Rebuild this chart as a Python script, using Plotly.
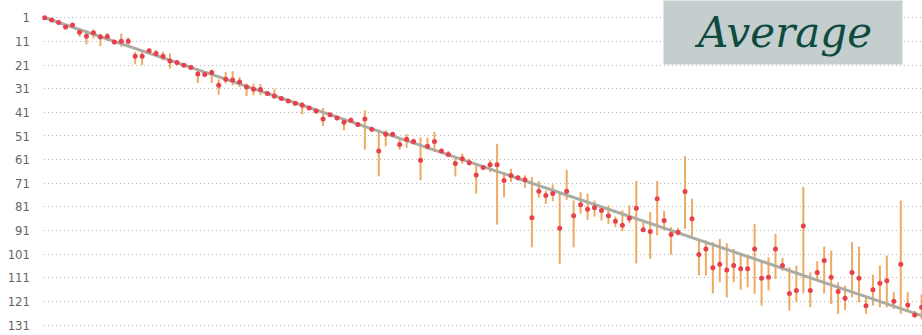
import plotly.graph_objects as go

# Expected rank of each item (1..127) and its observed average rank with spread
expected_rank = list(range(1, 128))

avg_rank = [
    1.0, 2.0, 3.0, 4.9, 4.1, 7.1, 8.8, 7.4, 9.1, 8.9,
    11.3, 10.9, 10.9, 17.3, 17.3, 15.0, 16.1, 17.3, 19.3, 19.9,
    21.1, 22.1, 24.8, 25.0, 24.2, 29.6, 27.0, 27.3, 28.2, 30.3,
    31.2, 31.4, 33.1, 34.1, 35.2, 36.2, 37.2, 38.0, 39.2, 40.4,
    43.8, 42.0, 43.4, 45.2, 44.4, 46.2, 43.8, 48.2, 57.4, 50.3,
    50.3, 54.6, 52.4, 53.3, 61.3, 55.4, 53.3, 57.4, 58.8, 62.7,
    60.6, 62.3, 67.5, 64.4, 63.2, 63.2, 69.9, 67.7, 68.7, 69.5,
    85.6, 74.4, 76.2, 75.3, 90.0, 74.4, 84.8, 80.1, 82.0, 81.4,
    82.5, 84.8, 87.1, 88.8, 85.8, 81.6, 90.7, 91.4, 77.6, 86.8,
    92.7, 91.7, 74.5, 86.0, 101.2, 98.8, 106.8, 105.3, 107.7, 105.8,
    107.2, 107.2, 98.8, 111.2, 110.8, 98.8, 105.8, 117.6, 116.4, 89.1,
    116.4, 108.8, 103.7, 110.8, 116.8, 119.7, 108.8, 111.2, 122.8, 116.1,
    113.3, 112.3, 120.9, 105.3, 122.5, 126.7, 123.5,
]

best_rank = [
    0.6, 1.6, 2.6, 4.1, 3.4, 6.0, 6.3, 6.0, 7.7, 7.4,
    10.5, 7.7, 9.3, 15.4, 15.4, 14.0, 14.7, 15.4, 16.1, 19.0,
    20.4, 21.1, 23.2, 24.3, 22.9, 27.1, 23.9, 23.6, 26.0, 28.8,
    28.9, 29.1, 32.4, 31.0, 34.6, 35.6, 36.2, 36.6, 38.6, 39.4,
    39.2, 41.4, 42.7, 43.7, 43.2, 45.1, 40.2, 47.2, 48.3, 48.6,
    49.3, 52.1, 50.3, 52.1, 51.7, 51.7, 49.3, 56.4, 57.4, 59.9,
    58.5, 60.6, 63.0, 63.5, 61.3, 54.3, 66.3, 64.9, 67.7, 67.7,
    68.4, 70.1, 74.1, 71.5, 74.8, 65.3, 78.3, 74.8, 75.4, 78.3,
    81.8, 80.4, 85.1, 82.5, 80.4, 70.1, 86.8, 83.2, 70.1, 82.8,
    89.6, 89.9, 59.6, 77.6, 95.2, 95.2, 95.9, 94.5, 96.4, 98.8,
    100.9, 101.6, 88.2, 104.4, 102.3, 92.4, 102.6, 106.5, 105.8, 72.6,
    108.7, 104.0, 97.8, 99.5, 112.9, 114.3, 95.9, 97.8, 119.3, 109.6,
    105.8, 101.6, 117.1, 78.3, 117.1, 124.9, 118.0,
]

worst_rank = [
    1.4, 2.4, 3.4, 6.0, 4.9, 9.1, 12.3, 9.8, 13.0, 10.8,
    12.3, 13.3, 12.7, 20.7, 21.1, 16.1, 17.6, 19.0, 22.5, 21.1,
    21.8, 22.9, 28.6, 26.0, 28.6, 33.5, 28.8, 29.6, 30.3, 34.2,
    33.8, 33.8, 33.8, 35.2, 35.8, 36.8, 38.3, 41.8, 39.8, 41.6,
    46.8, 42.6, 44.4, 48.6, 45.5, 47.2, 56.8, 49.3, 68.1, 55.4,
    51.5, 56.8, 56.0, 54.6, 69.8, 56.8, 57.8, 58.5, 59.9, 68.1,
    62.7, 63.5, 75.4, 65.3, 66.3, 88.5, 76.9, 70.5, 69.8, 72.9,
    98.1, 77.1, 79.7, 78.6, 105.1, 78.0, 98.1, 83.9, 86.5, 85.1,
    86.8, 88.2, 89.6, 91.3, 87.9, 104.9, 91.7, 103.0, 93.1, 91.0,
    101.2, 93.1, 90.3, 94.3, 110.0, 110.1, 117.6, 112.9, 119.3, 112.9,
    116.1, 115.0, 117.8, 122.8, 116.4, 111.5, 108.0, 124.9, 121.4, 117.6,
    123.4, 112.5, 117.6, 122.1, 126.3, 124.6, 119.3, 121.4, 126.3, 122.8,
    123.5, 123.5, 124.2, 126.3, 125.6, 127.7, 128.5,
]

tick_vals = list(range(1, 132, 10))
tick_text = [str(v) for v in tick_vals]

err_down = [w - a for a, w in zip(avg_rank, worst_rank)]
err_up = [a - b for a, b in zip(avg_rank, best_rank)]

fig = go.Figure()

# Spread of ranks per item
fig.add_trace(go.Scatter(
    x=expected_rank, y=avg_rank, mode="markers",
    marker=dict(size=1, color="rgba(0,0,0,0)"),
    error_y=dict(type="data", symmetric=False, array=err_down, arrayminus=err_up,
                 color="#eeaa62", thickness=2, width=0),
    hoverinfo="skip", showlegend=False, cliponaxis=False,
))

# Reference diagonal: average rank equal to expected rank
fig.add_trace(go.Scatter(
    x=[expected_rank[0], expected_rank[-1]], y=[expected_rank[0], expected_rank[-1]],
    mode="lines", line=dict(color="#abaca4", width=3),
    hoverinfo="skip", showlegend=False,
))

# Average rank markers
fig.add_trace(go.Scatter(
    x=expected_rank, y=avg_rank, mode="markers",
    marker=dict(size=5, color="#e8404c"),
    showlegend=False, cliponaxis=False,
))

fig.update_layout(
    width=922, height=335,
    margin=dict(l=44, r=0, t=0, b=0),
    paper_bgcolor="white", plot_bgcolor="white",
    xaxis=dict(range=[0.9, 127.05], visible=False, showgrid=False, zeroline=False),
    yaxis=dict(
        range=[135.2, -6.5], autorange=False,
        tickvals=tick_vals, ticktext=tick_text,
        showgrid=True, gridcolor="#b4b4b4", gridwidth=1, griddash="1px,3px",
        zeroline=False, showline=False, ticks="",
        ticklabelstandoff=13, automargin=False,
        tickfont=dict(family="Liberation Sans Narrow, DejaVu Sans Condensed, sans-serif",
                      size=13, color="#666666"),
    ),
    annotations=[dict(
        text="Average", xref="paper", yref="paper",
        x=(663 - 44) / 878, y=1, xanchor="left", yanchor="top",
        width=238, height=63, bgcolor="#c4cece", borderpad=0,
        showarrow=False, align="center", valign="middle",
        font=dict(family="DejaVu Serif", size=42, color="#0e4a3e", style="italic"),
    )],
)

fig.write_html("out.html")
